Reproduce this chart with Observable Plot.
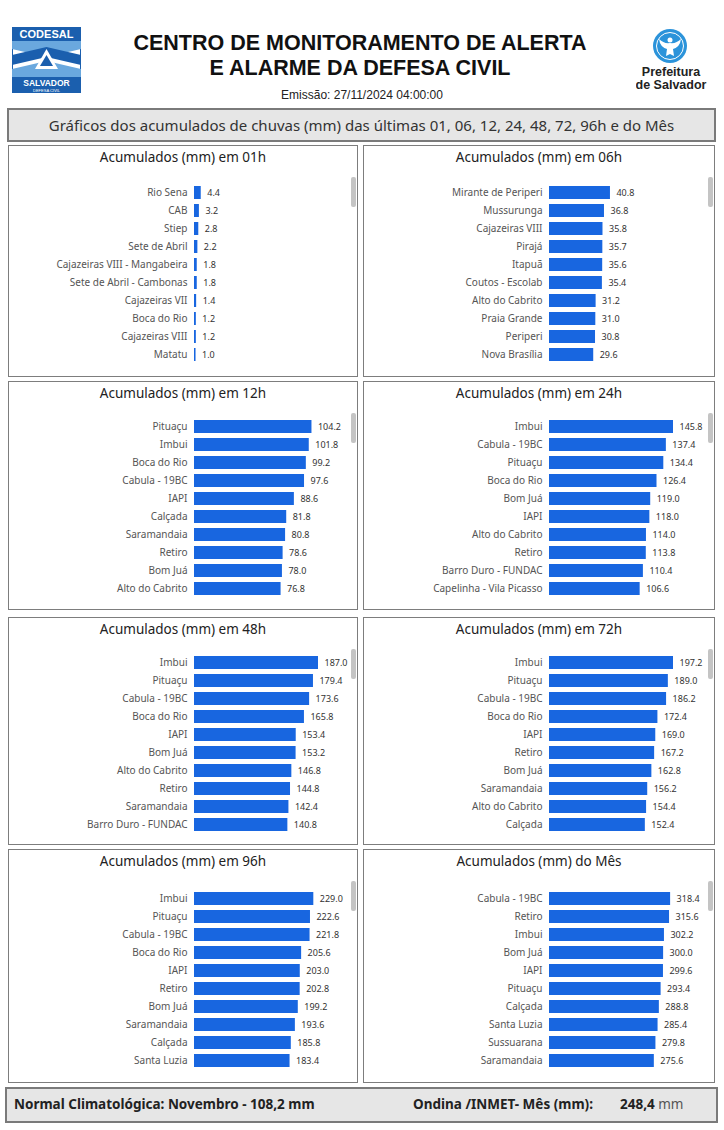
<!DOCTYPE html>
<html>
<head>
<meta charset="utf-8">
<script src="https://cdn.jsdelivr.net/npm/d3@7"></script>
<script src="https://cdn.jsdelivr.net/npm/@observablehq/plot@0.6"></script>
<style>
  html, body { margin: 0; padding: 0; background: #fff; }
  #page { position: relative; width: 724px; height: 1130px; overflow: hidden; font-family: "Noto Sans", "Open Sans", sans-serif; }
  .abs { position: absolute; }
  .title1 { font-family: "Liberation Sans", Arial, sans-serif; font-weight: bold; font-size: 21.5px; color: #111; text-align: center; left: 0; width: 720px; }
  .emis { font-family: "Liberation Sans", Arial, sans-serif; font-size: 12px; color: #222; text-align: center; left: 0; width: 724px; }
  .graybox { box-sizing: border-box; background: #e6e6e6; border: 2px solid #7a7a7a; }
  .panel { box-sizing: border-box; border: 1.5px solid #7d7d7d; background: #fff; }
  .ptitle { position: absolute; left: 0; right: 0; text-align: center; font-size: 13.5px; color: #222; }
  .thumb { position: absolute; width: 5px; height: 30px; background: #c4c4c4; border-radius: 2px; }
  .panel svg { position: absolute; left: 0; top: 0; }
  .foot { position: absolute; top: 6px; font-size: 13.5px; font-weight: bold; color: #222; }
</style>
</head>
<body>
<div id="page">
  <!-- CODESAL logo -->
  <svg class="abs" style="left:12px;top:27px" width="69" height="66" viewBox="0 0 69 66">
    <rect x="0.5" y="0.5" width="68" height="65" fill="#fff" stroke="#1b5fae"/>
    <rect x="0" y="0" width="69" height="14" fill="#1b5fae"/>
    <text x="34.5" y="11" text-anchor="middle" font-family="Liberation Sans, Arial" font-weight="bold" font-size="11" fill="#fff">CODESAL</text>
    <polygon points="0,14 69,14 69,22 34.5,30 0,22" fill="#6aa8de"/>
    <polygon points="0,28 34.5,20 69,28 69,38 34.5,30 0,38" fill="#1b5fae"/>
    <polygon points="0,42 34.5,34 69,42 69,50 0,50" fill="#6aa8de"/>
    <polygon points="34.5,22 46,42 23,42" fill="#fff"/>
    <polygon points="34.5,28 41,39 28,39" fill="#1b5fae"/>
    <rect x="0" y="50" width="69" height="16" fill="#1b5fae"/>
    <text x="34.5" y="59" text-anchor="middle" font-family="Liberation Sans, Arial" font-weight="bold" font-size="8.5" fill="#fff">SALVADOR</text>
    <text x="34.5" y="64.5" text-anchor="middle" font-family="Liberation Sans, Arial" font-size="4" fill="#fff">DEFESA CIVIL</text>
  </svg>
  <!-- Prefeitura logo -->
  <svg class="abs" style="left:636px;top:26px" width="74" height="66" viewBox="0 0 74 66">
    <circle cx="34" cy="20" r="17" fill="#2b93da"/>
    <circle cx="34" cy="20" r="13.5" fill="none" stroke="#fff" stroke-width="1"/>
    <path d="M23,13 Q28,18 34,17 Q40,18 45,13 Q44,21 37,23 L38,30 L34,28 L30,30 L31,23 Q24,21 23,13 Z" fill="#fff"/>
    <circle cx="34" cy="14" r="2.5" fill="#fff"/>
    <text x="35" y="50" text-anchor="middle" font-family="Liberation Sans, Arial" font-weight="bold" font-size="12.5" fill="#222">Prefeitura</text>
    <text x="35" y="63" text-anchor="middle" font-family="Liberation Sans, Arial" font-weight="bold" font-size="12.5" fill="#222">de Salvador</text>
  </svg>
  <div class="abs title1" style="top:31px">CENTRO DE MONITORAMENTO DE ALERTA</div>
  <div class="abs title1" style="top:56px">E ALARME DA DEFESA CIVIL</div>
  <div class="abs emis" style="top:88px">Emissão: 27/11/2024 04:00:00</div>
  <div class="abs graybox" style="left:7px;top:108px;width:709px;height:34px;">
    <div style="text-align:center;font-size:15px;line-height:30px;color:#333;">Gráficos dos acumulados de chuvas (mm) das últimas 01, 06, 12, 24, 48, 72, 96h e do Mês</div>
  </div>
  <div class="abs graybox" style="left:5px;top:1087px;width:713px;height:36px;">
    <div class="foot" style="left:7px;">Normal Climatológica: Novembro - 108,2 mm</div>
    <div class="foot" style="left:406px;">Ondina /INMET- Mês (mm):</div>
    <div class="foot" style="left:613px;">248,4 <span style="font-weight:normal;color:#555">mm</span></div>
  </div>
</div>
<script>
// ---- Data ----
const panelTitles = [
  "Acumulados (mm) em 01h", "Acumulados (mm) em 06h",
  "Acumulados (mm) em 12h", "Acumulados (mm) em 24h",
  "Acumulados (mm) em 48h", "Acumulados (mm) em 72h",
  "Acumulados (mm) em 96h", "Acumulados (mm) do Mês"
];
const names01 = ["Rio Sena","CAB","Stiep","Sete de Abril","Cajazeiras VIII - Mangabeira","Sete de Abril - Cambonas","Cajazeiras VII","Boca do Rio","Cajazeiras VIII","Matatu"];
const vals01 = [4.4,3.2,2.8,2.2,1.8,1.8,1.4,1.2,1.2,1.0];
const names06 = ["Mirante de Periperi","Mussurunga","Cajazeiras VIII","Pirajá","Itapuã","Coutos - Escolab","Alto do Cabrito","Praia Grande","Periperi","Nova Brasília"];
const vals06 = [40.8,36.8,35.8,35.7,35.6,35.4,31.2,31.0,30.8,29.6];
const names12 = ["Pituaçu","Imbui","Boca do Rio","Cabula - 19BC","IAPI","Calçada","Saramandaia","Retiro","Bom Juá","Alto do Cabrito"];
const vals12 = [104.2,101.8,99.2,97.6,88.6,81.8,80.8,78.6,78.0,76.8];
const names24 = ["Imbui","Cabula - 19BC","Pituaçu","Boca do Rio","Bom Juá","IAPI","Alto do Cabrito","Retiro","Barro Duro - FUNDAC","Capelinha - Vila Picasso"];
const vals24 = [145.8,137.4,134.4,126.4,119.0,118.0,114.0,113.8,110.4,106.6];
const names48 = ["Imbui","Pituaçu","Cabula - 19BC","Boca do Rio","IAPI","Bom Juá","Alto do Cabrito","Retiro","Saramandaia","Barro Duro - FUNDAC"];
const vals48 = [187.0,179.4,173.6,165.8,153.4,153.2,146.8,144.8,142.4,140.8];
const names72 = ["Imbui","Pituaçu","Cabula - 19BC","Boca do Rio","IAPI","Retiro","Bom Juá","Saramandaia","Alto do Cabrito","Calçada"];
const vals72 = [197.2,189.0,186.2,172.4,169.0,167.2,162.8,156.2,154.4,152.4];
const names96 = ["Imbui","Pituaçu","Cabula - 19BC","Boca do Rio","IAPI","Retiro","Bom Juá","Saramandaia","Calçada","Santa Luzia"];
const vals96 = [229.0,222.6,221.8,205.6,203.0,202.8,199.2,193.6,185.8,183.4];
const namesMes = ["Cabula - 19BC","Retiro","Imbui","Bom Juá","IAPI","Pituaçu","Calçada","Santa Luzia","Sussuarana","Saramandaia"];
const valsMes = [318.4,315.6,302.2,300.0,299.6,293.4,288.8,285.4,279.8,275.6];
// axis maximum of each panel's value scale
const axisMax = [81, 83, 110, 145.8, 187, 197.2, 238, 326];

const seriesNames = [names01, names06, names12, names24, names48, names72, names96, namesMes];
const seriesVals = [vals01, vals06, vals12, vals24, vals48, vals72, vals96, valsMes];

// ---- Layout ----
const cols = [{x: 8, w: 350}, {x: 363, w: 352}];
const rows = [
  {y: 145, h: 232, mt: 34, range: 187},
  {y: 381, h: 229, mt: 32, range: 187},
  {y: 617, h: 228, mt: 34, range: 183},
  {y: 849, h: 234, mt: 37, range: 185}
];
const BAR_W = 124, ML = 185;
const page = document.getElementById("page");

seriesNames.forEach((names, i) => {
  const col = cols[i % 2], row = rows[Math.floor(i / 2)];
  const div = document.createElement("div");
  div.className = "abs panel";
  div.style.left = col.x + "px";
  div.style.top = row.y + "px";
  div.style.width = col.w + "px";
  div.style.height = row.h + "px";
  const innerW = col.w - 3;
  const data = names.map((n, k) => ({n, v: seriesVals[i][k]}));
  const chart = Plot.plot({
    width: innerW,
    height: row.mt + row.range + 4,
    marginLeft: ML,
    marginRight: innerW - ML - BAR_W,
    marginTop: row.mt,
    marginBottom: 4,
    x: {domain: [0, axisMax[i]], axis: null},
    y: {domain: names, paddingInner: 0.28, paddingOuter: 0.14, axis: null},
    style: {fontFamily: '"Noto Sans", "Open Sans", sans-serif', fontSize: "10px", background: "transparent", overflow: "visible"},
    marks: [
      Plot.barX(data, {x: "v", y: "n", fill: "#1866e0"}),
      Plot.text(data, {x: "v", y: "n", text: d => d.v.toFixed(1), textAnchor: "start", dx: 6, fill: "#333", fontSize: 9}),
      Plot.axisY({tickSize: 0, tickPadding: 7, color: "#555", label: null})
    ]
  });
  div.appendChild(chart);
  const t = document.createElement("div");
  t.className = "ptitle";
  t.style.top = "2px";
  t.textContent = panelTitles[i];
  div.appendChild(t);
  const th = document.createElement("div");
  th.className = "thumb";
  th.style.left = (col.w - 8) + "px";
  th.style.top = "31px";
  div.appendChild(th);
  page.appendChild(div);
});
</script>
</body>
</html>
